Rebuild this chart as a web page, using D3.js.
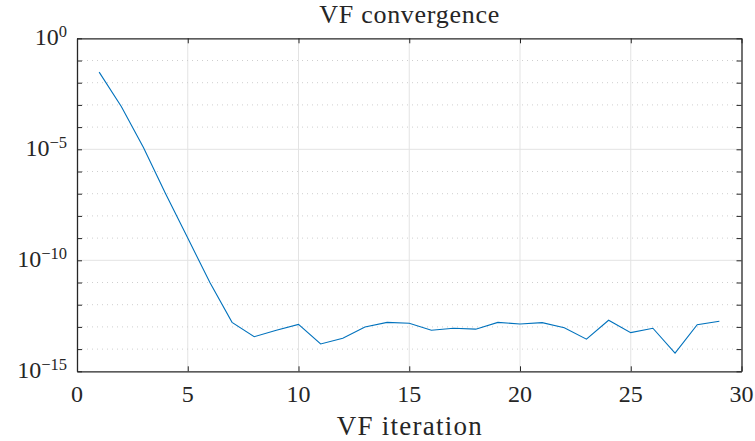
<html>
  <head>
    <title>VF convergence</title>
    <script src="https://d3js.org/d3.v7.min.js"></script>
    <style>
      body { margin: 0; background: #fff; }
      svg text { font-family: "Liberation Serif", "DejaVu Serif", serif; fill: #262626; }
    </style>
  </head>
  <body>
    <div id='wrapper'></div>
    <script>
      // data
      var iterations = [1,2,3,4,5,6,7,8,9,10,11,12,13,14,15,16,17,18,19,20,21,22,23,24,25,26,27,28,29];
      var residuals = [3.0e-2, 8.5e-4, 1.2e-5, 1.0e-7, 1.0e-9, 1.0e-11, 1.6e-13, 3.6e-14, 7.1e-14, 1.3e-13,
                       1.7e-14, 3.1e-14, 1.0e-13, 1.6e-13, 1.45e-13, 7.1e-14, 8.7e-14, 7.9e-14, 1.6e-13, 1.35e-13,
                       1.55e-13, 9.1e-14, 2.8e-14, 2.0e-13, 5.5e-14, 8.7e-14, 6.6e-15, 1.26e-13, 1.8e-13];
      var xTicks = [0,5,10,15,20,25,30];
      var yMajor = [0,-5,-10,-15];   // exponents with labels
      var yMinor = [-1,-2,-3,-4,-6,-7,-8,-9,-11,-12,-13,-14];

      var W = 755, H = 441;
      // note: "top" is taken by window.top, so plot edges get their own names
      var pL = 77, pR = 741.5, pT = 38.3, pB = 371.3;

      var svg = d3.select("#wrapper").append("svg")
        .attr("width", W).attr("height", H);

      var x = d3.scaleLinear().domain([0,30]).range([pL,pR]);
      var y = d3.scaleLog().domain([1e-15,1]).range([pB,pT]);

      // grid
      svg.append("g").selectAll("line").data(xTicks.slice(1,-1)).enter().append("line")
        .attr("x1", function(d){ return x(d); }).attr("x2", function(d){ return x(d); })
        .attr("y1", pT).attr("y2", pB)
        .attr("stroke", "#e3e3e3").attr("stroke-width", 1);
      svg.append("g").selectAll("line").data(yMajor.slice(1,-1)).enter().append("line")
        .attr("x1", pL).attr("x2", pR)
        .attr("y1", function(d){ return y(Math.pow(10,d)); }).attr("y2", function(d){ return y(Math.pow(10,d)); })
        .attr("stroke", "#e3e3e3").attr("stroke-width", 1);
      svg.append("g").selectAll("line").data(yMinor).enter().append("line")
        .attr("x1", pL).attr("x2", pR)
        .attr("y1", function(d){ return y(Math.pow(10,d)); }).attr("y2", function(d){ return y(Math.pow(10,d)); })
        .attr("stroke", "#cfcfcf").attr("stroke-width", 1).attr("stroke-dasharray", "1,4");

      // the line
      var pts = iterations.map(function(d,i){ return [d, residuals[i]]; });
      svg.append("path").datum(pts)
        .attr("fill", "none").attr("stroke", "#0072BD").attr("stroke-width", 1.1)
        .attr("d", d3.line().x(function(d){ return x(d[0]); }).y(function(d){ return y(d[1]); }));

      // axes, ticks inward
      var allY = yMajor.concat(yMinor).map(function(e){ return Math.pow(10,e); });
      function styleAxis(g) {
        g.selectAll("path.domain").attr("stroke", "#262626").attr("stroke-width", 1.3);
        g.selectAll(".tick line").attr("stroke", "#262626").attr("stroke-width", 1);
        g.selectAll(".tick text").remove();
      }
      svg.append("g").attr("transform", "translate(0,"+pB+")")
        .call(d3.axisBottom(x).tickValues(xTicks).tickSizeInner(-5).tickSizeOuter(0)).call(styleAxis);
      svg.append("g").attr("transform", "translate(0,"+pT+")")
        .call(d3.axisTop(x).tickValues(xTicks).tickSizeInner(-5).tickSizeOuter(0)).call(styleAxis);
      svg.append("g").attr("transform", "translate("+pL+",0)")
        .call(d3.axisLeft(y).tickValues(allY).tickSizeInner(-5).tickSizeOuter(0)).call(styleAxis);
      svg.append("g").attr("transform", "translate("+pR+",0)")
        .call(d3.axisRight(y).tickValues(allY).tickSizeInner(-5).tickSizeOuter(0)).call(styleAxis);

      // tick labels
      svg.append("g").selectAll("text").data(xTicks).enter().append("text")
        .attr("x", function(d){ return x(d); }).attr("y", pB + 30.5)
        .attr("text-anchor", "middle").style("font-size", "24px")
        .text(function(d){ return d; });

      var yl = svg.append("g").selectAll("text").data(yMajor).enter().append("text")
        .attr("x", pL - 10).attr("y", function(d){ return y(Math.pow(10,d)) + 7; })
        .attr("text-anchor", "end").style("font-size", "24px");
      yl.append("tspan").text("10");
      yl.append("tspan").attr("dy", -8.5).style("font-size", "16.5px")
        .text(function(d){ return d < 0 ? "\u2212" + (-d) : d; });

      // title and label
      svg.append("text").attr("x", (pL+pR)/2).attr("y", 23)
        .attr("text-anchor", "middle").style("font-size", "26px")
        .attr("textLength", 180).attr("lengthAdjust", "spacing").text("VF convergence");
      svg.append("text").attr("x", (pL+pR)/2).attr("y", 435)
        .attr("text-anchor", "middle").style("font-size", "27px")
        .attr("textLength", 145).attr("lengthAdjust", "spacing").text("VF iteration");
    </script>
  </body>
</html>
